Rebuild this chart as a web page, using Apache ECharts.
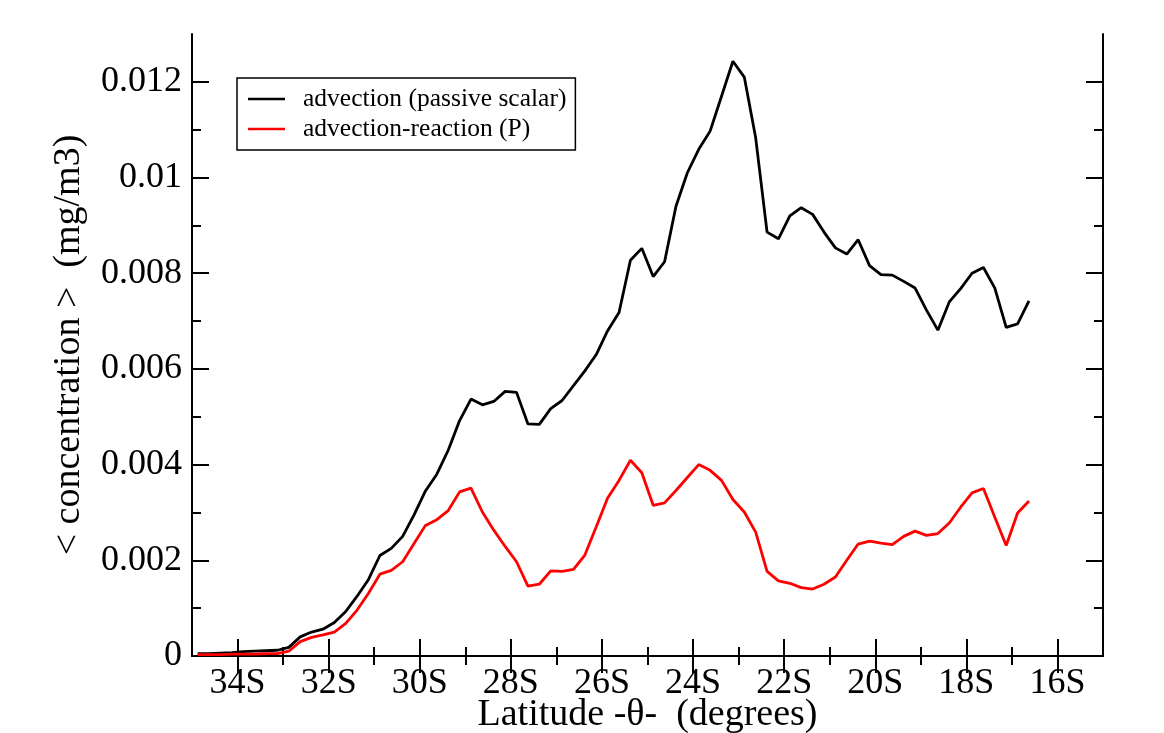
<!DOCTYPE html>
<html>
<head>
<meta charset="utf-8">
<script src="https://cdn.jsdelivr.net/npm/echarts@6/dist/echarts.min.js"></script>
<style>
  html, body { margin: 0; padding: 0; background: #fff; }
  #chart { width: 1164px; height: 733px; }
</style>
</head>
<body>
<div id="chart"></div>
<script>
// latitude (degrees, negative = south), bin centres every 0.25 deg
const latitude = [
  -34.875, -34.625, -34.375, -34.125, -33.875, -33.625, -33.375, -33.125,
  -32.875, -32.625, -32.375, -32.125, -31.875, -31.625, -31.375, -31.125,
  -30.875, -30.625, -30.375, -30.125, -29.875, -29.625, -29.375, -29.125,
  -28.875, -28.625, -28.375, -28.125, -27.875, -27.625, -27.375, -27.125,
  -26.875, -26.625, -26.375, -26.125, -25.875, -25.625, -25.375, -25.125,
  -24.875, -24.625, -24.375, -24.125, -23.875, -23.625, -23.375, -23.125,
  -22.875, -22.625, -22.375, -22.125, -21.875, -21.625, -21.375, -21.125,
  -20.875, -20.625, -20.375, -20.125, -19.875, -19.625, -19.375, -19.125,
  -18.875, -18.625, -18.375, -18.125, -17.875, -17.625, -17.375, -17.125,
  -16.875, -16.625
]

// advection (passive scalar)
const passiveScalar = [
  0.00005, 0.00005, 0.00006, 0.00007, 0.00009, 0.0001, 0.00011, 0.00012,
  0.00018, 0.0004, 0.0005, 0.00056, 0.0007, 0.00093, 0.00125, 0.0016,
  0.0021, 0.00225, 0.0025, 0.00295, 0.00345, 0.0038, 0.0043, 0.00492,
  0.00537, 0.00525, 0.00532, 0.00553, 0.00551, 0.00485, 0.00484, 0.00517,
  0.00534, 0.00565, 0.00596, 0.0063, 0.0068, 0.00718, 0.00827, 0.00852,
  0.00793, 0.00824, 0.0094, 0.0101, 0.01059, 0.01097, 0.0117, 0.01243,
  0.0121, 0.01083, 0.00886, 0.00872, 0.0092, 0.00937, 0.00923, 0.00886,
  0.00853, 0.0084, 0.0087, 0.00816, 0.00797, 0.00796, 0.00783, 0.00769,
  0.00723, 0.00681, 0.0074, 0.00768, 0.008, 0.00812, 0.00769, 0.00687,
  0.00694, 0.00742
]

// advection-reaction (P)
const reactionP = [
  0.00003, 0.00003, 0.00003, 0.00004, 0.00004, 0.00004, 0.00005, 0.00005,
  0.0001, 0.0003, 0.00039, 0.00044, 0.0005, 0.00068, 0.00096, 0.00131,
  0.00171, 0.00179, 0.00197, 0.00235, 0.00273, 0.00285, 0.00304, 0.00343,
  0.00351, 0.00301, 0.00263, 0.00229, 0.00197, 0.00146, 0.0015, 0.00178,
  0.00177, 0.00181, 0.00211, 0.0027, 0.0033, 0.00367, 0.00409, 0.00383,
  0.00315, 0.0032, 0.00346, 0.00373, 0.004, 0.00388, 0.00367, 0.00327,
  0.00301, 0.00259, 0.00177, 0.00157, 0.00152, 0.00143, 0.0014, 0.0015,
  0.00165, 0.002, 0.00234, 0.0024, 0.00236, 0.00233, 0.0025, 0.00261,
  0.00252, 0.00256, 0.00278, 0.00311, 0.00341, 0.0035, 0.0029, 0.00231,
  0.00299, 0.00324
]

const latMajor = [-34, -32, -30, -28, -26, -24, -22, -20, -18, -16]
const latMinor = [-33, -31, -29, -27, -25, -23, -21, -19, -17]
const concMajor = [0, 0.002, 0.004, 0.006, 0.008, 0.01, 0.012]
const concMinor = [0.001, 0.003, 0.005, 0.007, 0.009, 0.011]

const serif = "'Liberation Serif', 'Times New Roman', serif"
const frame = { show: true, lineStyle: { color: '#000', width: 2 } }

// an axis that only draws ticks (used to mirror ticks and add minor ones)
const tickAxis = (base, pos, values, len, extra) => Object.assign({
  type: 'value',
  position: pos,
  min: base.min,
  max: base.max,
  axisLine: { show: false },
  axisTick: { show: true, inside: true, length: len, customValues: values, lineStyle: { color: '#000', width: 2 } },
  axisLabel: { show: false },
  splitLine: { show: false }
}, extra || {})

const xr = { min: -35, max: -15 }
const yr = { min: 0, max: 0.013 }

const myChart = echarts.init(document.getElementById('chart'))
const option = {
  animation: false,
  backgroundColor: '#fff',
  grid: { left: 192, right: 61, top: 34, bottom: 77, outerBoundsMode: 'none' },
  legend: {
    orient: 'vertical',
    left: 237,
    top: 78,
    padding: [8, 9, 8, 11],
    borderColor: '#000',
    borderWidth: 1.5,
    icon: 'rect',
    itemWidth: 37,
    itemHeight: 2.5,
    itemGap: 4,
    textStyle: { fontSize: 25.5, fontFamily: serif, color: '#000', lineHeight: 26, padding: [0, 0, 0, 13] },
    data: ['advection (passive scalar)', 'advection-reaction (P)']
  },
  xAxis: [
    tickAxis(xr, 'bottom', latMajor, 17, {
      axisLine: frame,
      axisLabel: {
        customValues: latMajor,
        formatter: (v) => Math.abs(v) + 'S',
        fontSize: 36,
        fontFamily: serif,
        color: '#000',
        margin: 10
      },
      name: 'Latitude -θ-  (degrees)',
      nameLocation: 'middle',
      nameGap: 40,
      nameMoveOverlap: false,
      nameTextStyle: { fontSize: 38, fontFamily: serif, color: '#000' }
    }),
    tickAxis(xr, 'bottom', latMinor, 9),
    tickAxis(xr, 'top', latMajor, 17, { axisLine: frame }),
    tickAxis(xr, 'top', latMinor, 9)
  ],
  yAxis: [
    tickAxis(yr, 'left', concMajor, 17, {
      axisLine: frame,
      axisLabel: {
        customValues: concMajor,
        formatter: (v) => String(v),
        fontSize: 36,
        fontFamily: serif,
        color: '#000',
        margin: 10
      },
      name: '< concentration >  (mg/m3)',
      nameLocation: 'middle',
      nameGap: 104,
      nameMoveOverlap: false,
      nameTextStyle: { fontSize: 38, fontFamily: serif, color: '#000' }
    }),
    tickAxis(yr, 'left', concMinor, 9),
    tickAxis(yr, 'right', concMajor, 17, { axisLine: frame }),
    tickAxis(yr, 'right', concMinor, 9)
  ],
  series: [
    {
      name: 'advection (passive scalar)',
      type: 'line',
      xAxisIndex: 0,
      yAxisIndex: 0,
      symbol: 'none',
      lineStyle: { color: '#000', width: 2.8 },
      itemStyle: { color: '#000' },
      data: latitude.map((lat, i) => [lat, passiveScalar[i]])
    },
    {
      name: 'advection-reaction (P)',
      type: 'line',
      xAxisIndex: 0,
      yAxisIndex: 0,
      symbol: 'none',
      lineStyle: { color: '#ff0000', width: 2.8 },
      itemStyle: { color: '#ff0000' },
      data: latitude.map((lat, i) => [lat, reactionP[i]])
    }
  ]
}
option && myChart.setOption(option)
</script>
</body>
</html>
